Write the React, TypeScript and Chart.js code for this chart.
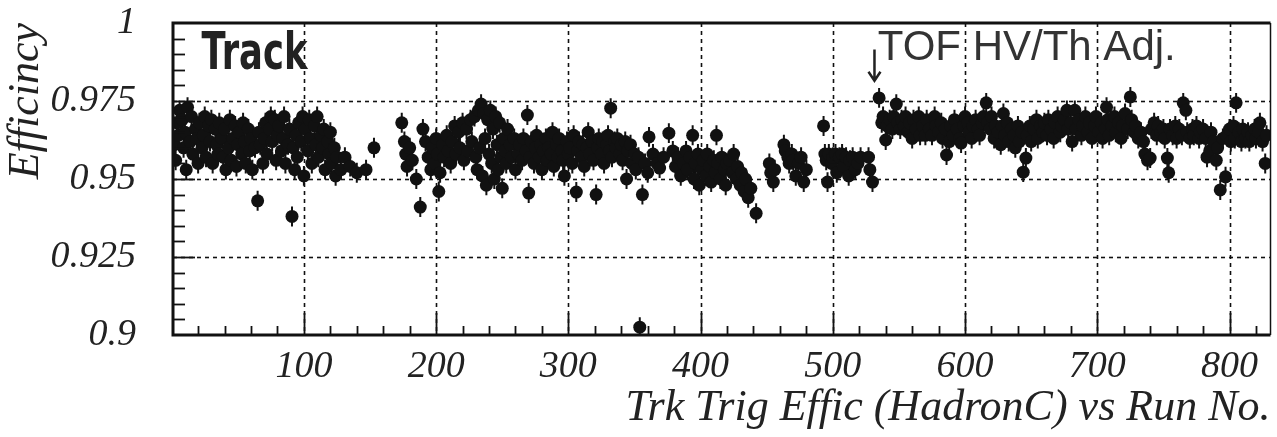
import React, { useEffect, useRef } from 'react';
import { Chart, registerables } from 'chart.js';

Chart.register(...registerables);

// ---- data: [run number, efficiency] ----
const runsEarly: [number, number][] = [
  [2, 0.961], [3, 0.956], [4, 0.968], [5, 0.964], [6, 0.972], [8, 0.969], [9, 0.960], [10, 0.965],
  [11, 0.953], [12, 0.973], [14, 0.962], [15, 0.970], [16, 0.958], [18, 0.966], [19, 0.963], [20, 0.955],
  [21, 0.968], [23, 0.960], [24, 0.964], [25, 0.970], [26, 0.957], [28, 0.967], [29, 0.962], [30, 0.969],
  [31, 0.955], [33, 0.966], [34, 0.961], [35, 0.958], [36, 0.968], [38, 0.963], [39, 0.957], [40, 0.966],
  [41, 0.953], [43, 0.960], [44, 0.969], [45, 0.956], [46, 0.963], [48, 0.967], [49, 0.954], [50, 0.961],
  [51, 0.965], [53, 0.958], [54, 0.968], [55, 0.962], [56, 0.955], [58, 0.966], [59, 0.959], [60, 0.963],
  [61, 0.953], [63, 0.960], [65, 0.943], [66, 0.965], [67, 0.961], [69, 0.955], [70, 0.963], [71, 0.968],
  [72, 0.958], [74, 0.966], [75, 0.970], [76, 0.962], [78, 0.969], [79, 0.956], [80, 0.964], [81, 0.967],
  [83, 0.959], [84, 0.963], [85, 0.970], [86, 0.955], [88, 0.961], [89, 0.966], [91, 0.938], [92, 0.960],
  [93, 0.953], [94, 0.964], [95, 0.957], [96, 0.968], [98, 0.962], [99, 0.970], [100, 0.951], [101, 0.966],
  [103, 0.959], [104, 0.969], [105, 0.963], [106, 0.955], [108, 0.967], [109, 0.961], [110, 0.970],
  [111, 0.957], [113, 0.964], [114, 0.960], [115, 0.966], [116, 0.953], [118, 0.962], [119, 0.958],
  [120, 0.965], [121, 0.955], [123, 0.960], [124, 0.951], [125, 0.957], [128, 0.953], [131, 0.957],
  [135, 0.954], [140, 0.952], [147, 0.953], [153, 0.960],
];

const runsSecond: [number, number][] = [
  [174, 0.968], [176, 0.962], [177, 0.958], [178, 0.954], [180, 0.960], [182, 0.956], [185, 0.950],
  [188, 0.941], [190, 0.966], [192, 0.962], [194, 0.957], [196, 0.953], [197, 0.960], [199, 0.955],
  [200, 0.963], [201, 0.958], [202, 0.946], [203, 0.952], [205, 0.961], [206, 0.957], [208, 0.964],
  [209, 0.959], [211, 0.955], [212, 0.962], [214, 0.967], [215, 0.958], [217, 0.965], [218, 0.960],
  [220, 0.968], [221, 0.956], [223, 0.966], [224, 0.959], [226, 0.969], [227, 0.962], [229, 0.970],
  [230, 0.957], [231, 0.953], [232, 0.972], [233, 0.960], [234, 0.974], [235, 0.951], [236, 0.971],
  [237, 0.963], [238, 0.948], [239, 0.969], [240, 0.958], [241, 0.972], [242, 0.955], [243, 0.966],
  [244, 0.950], [245, 0.970], [246, 0.961], [247, 0.953], [248, 0.968], [249, 0.957], [250, 0.947],
  [251, 0.963], [252, 0.959], [253, 0.955], [254, 0.966], [256, 0.961], [257, 0.957], [259, 0.963],
  [260, 0.953],
];

const runsMiddle: [number, number][] = [
  [262, 0.958], [263, 0.961], [265, 0.956], [266, 0.963], [268, 0.959], [269, 0.9705], [270, 0.9455],
  [271, 0.957], [272, 0.962], [274, 0.955], [275, 0.960], [276, 0.964], [278, 0.957], [279, 0.961],
  [280, 0.953], [281, 0.959], [283, 0.963], [284, 0.956], [285, 0.960], [287, 0.958], [288, 0.965],
  [289, 0.954], [291, 0.961], [292, 0.957], [293, 0.963], [295, 0.959], [296, 0.956], [297, 0.951],
  [299, 0.962], [300, 0.958], [301, 0.960], [303, 0.955], [304, 0.964], [306, 0.9458], [307, 0.959],
  [308, 0.962], [310, 0.957], [311, 0.961], [312, 0.954], [314, 0.960], [315, 0.965], [316, 0.958],
  [318, 0.962], [319, 0.956], [321, 0.945], [322, 0.960], [323, 0.963], [325, 0.958], [326, 0.962],
  [327, 0.955], [329, 0.961], [330, 0.964], [331, 0.959], [332, 0.9727], [333, 0.957], [335, 0.962],
  [336, 0.960], [337, 0.963], [339, 0.958], [340, 0.961], [341, 0.956], [343, 0.962], [344, 0.950],
  [345, 0.959], [347, 0.961], [348, 0.955], [350, 0.958], [351, 0.953], [353, 0.957], [354, 0.9025],
  [356, 0.945], [358, 0.955], [360, 0.952], [361, 0.9635], [364, 0.958], [367, 0.955], [369, 0.9535],
  [372, 0.957], [376, 0.9647], [379, 0.959], [381, 0.954], [383, 0.957], [385, 0.951], [387, 0.955],
  [389, 0.959], [390, 0.953], [392, 0.957], [394, 0.964], [395, 0.950], [396, 0.955], [398, 0.958],
  [399, 0.948], [401, 0.953], [402, 0.956], [404, 0.951], [405, 0.958], [407, 0.954], [408, 0.949],
  [410, 0.956], [411, 0.952], [412, 0.964], [413, 0.955], [415, 0.950], [416, 0.957], [418, 0.953],
  [419, 0.948], [420, 0.955],
];

const runsBeforeAdj: [number, number][] = [
  [422, 0.956], [424, 0.952], [425, 0.958], [427, 0.950], [428, 0.954], [430, 0.948], [431, 0.952],
  [433, 0.946], [434, 0.950], [436, 0.944], [438, 0.947], [442, 0.939], [452, 0.955], [453, 0.952],
  [455, 0.949], [456, 0.953], [463, 0.961], [464, 0.959], [466, 0.957], [467, 0.955], [469, 0.958],
  [470, 0.956], [472, 0.951], [474, 0.955], [476, 0.957], [478, 0.949], [480, 0.953], [493, 0.967],
  [494, 0.958], [495, 0.956], [496, 0.949], [497, 0.958], [499, 0.955], [500, 0.957], [502, 0.958],
  [503, 0.952], [505, 0.957], [507, 0.958], [508, 0.954], [510, 0.957], [512, 0.951], [513, 0.956],
  [515, 0.957], [517, 0.953], [519, 0.955], [521, 0.957], [527, 0.957], [528, 0.953], [530, 0.949],
];

const runsAfterAdj: [number, number][] = [
  [535, 0.976], [537, 0.968], [538, 0.970], [540, 0.9625], [541, 0.967], [543, 0.969], [545, 0.966],
  [546, 0.970], [548, 0.974], [549, 0.968], [551, 0.966], [552, 0.969], [554, 0.967], [555, 0.970],
  [557, 0.965], [558, 0.968], [560, 0.963], [561, 0.969], [563, 0.966], [565, 0.970], [566, 0.964],
  [568, 0.967], [570, 0.964], [571, 0.969], [573, 0.966], [575, 0.964], [577, 0.970], [578, 0.967],
  [580, 0.965], [582, 0.968], [583, 0.963], [585, 0.966], [586, 0.9577], [588, 0.962], [589, 0.967],
  [591, 0.964], [592, 0.969], [594, 0.966], [596, 0.963], [597, 0.9615], [599, 0.967], [600, 0.970],
  [602, 0.968], [603, 0.965], [605, 0.963], [606, 0.967], [608, 0.969], [610, 0.966], [611, 0.964],
  [613, 0.968], [614, 0.970], [616, 0.9744], [617, 0.968], [619, 0.966], [620, 0.970], [622, 0.963],
  [623, 0.967], [625, 0.965], [627, 0.961], [628, 0.967], [629, 0.971], [630, 0.964], [632, 0.968],
  [633, 0.962], [635, 0.966], [637, 0.964], [638, 0.960], [640, 0.967], [641, 0.962], [643, 0.965],
  [644, 0.9522], [646, 0.9567], [647, 0.964], [649, 0.967], [650, 0.962], [652, 0.966], [654, 0.969],
  [655, 0.963], [657, 0.967], [659, 0.965], [660, 0.968], [662, 0.964], [663, 0.969], [665, 0.966],
  [667, 0.963], [668, 0.968], [670, 0.970], [672, 0.965], [673, 0.967], [675, 0.969], [677, 0.972],
  [678, 0.966], [680, 0.968], [681, 0.962], [683, 0.972], [684, 0.966], [686, 0.969], [688, 0.964],
  [689, 0.967], [691, 0.970], [693, 0.965], [694, 0.968], [696, 0.963], [698, 0.967], [699, 0.970],
  [701, 0.965], [703, 0.968], [704, 0.963], [706, 0.966], [707, 0.973], [708, 0.969], [709, 0.964],
  [711, 0.967], [713, 0.970], [714, 0.965], [716, 0.968], [718, 0.963], [719, 0.967], [721, 0.971],
  [723, 0.966], [725, 0.9763], [726, 0.969], [728, 0.965], [729, 0.967], [731, 0.963], [733, 0.965],
  [735, 0.962], [736, 0.958], [738, 0.956], [740, 0.9567], [741, 0.966], [743, 0.968], [745, 0.964],
  [746, 0.967], [748, 0.965], [750, 0.966], [751, 0.963], [753, 0.9567], [754, 0.952], [755, 0.966],
  [757, 0.964], [759, 0.967], [760, 0.963], [762, 0.966], [764, 0.964], [765, 0.9744], [767, 0.972],
  [768, 0.965], [770, 0.963], [772, 0.966], [773, 0.964], [775, 0.967], [777, 0.963], [778, 0.965],
  [780, 0.966], [782, 0.963], [783, 0.957], [785, 0.959], [786, 0.965], [788, 0.962], [790, 0.956],
  [791, 0.960], [793, 0.9465], [795, 0.963], [797, 0.9507], [798, 0.964], [800, 0.966], [801, 0.962],
  [803, 0.967], [804, 0.963], [805, 0.9744], [807, 0.965], [809, 0.962], [810, 0.966], [812, 0.963],
  [814, 0.965], [815, 0.962], [817, 0.964], [819, 0.966], [820, 0.963], [822, 0.965], [823, 0.968],
  [825, 0.962], [827, 0.955], [828, 0.964],
];

const effError = 0.0032;

const xTickValues = [100, 200, 300, 400, 500, 600, 700, 800];
const xTickLabels = ['100', '200', '300', '400', '500', '600', '700', '800'];
const yTickValues = [0.9, 0.925, 0.95, 0.975, 1];
const yTickLabels = ['0.9', '0.925', '0.95', '0.975', '1'];

const xTitle = 'Trk Trig Effic (HadronC) vs Run No.';
const yTitle = 'Efficincy';
const noteTrack = 'Track';
const noteTof = 'TOF HV/Th Adj.';

const allPoints = [...runsEarly, ...runsSecond, ...runsMiddle, ...runsBeforeAdj, ...runsAfterAdj];

const INK = '#111111';

const decorPlugin = {
  id: 'decor',
  beforeDatasetsDraw(chart: any) {
    const { ctx, chartArea: a, scales } = chart;
    const x = scales.x;
    const y = scales.y;
    ctx.save();
    // dashed grid
    ctx.strokeStyle = INK;
    ctx.lineWidth = 1.6;
    ctx.setLineDash([4, 4]);
    xTickValues.forEach((v) => {
      const px = Math.round(x.getPixelForValue(v)) + 0.5;
      ctx.beginPath();
      ctx.moveTo(px, a.top);
      ctx.lineTo(px, a.bottom);
      ctx.stroke();
    });
    yTickValues.forEach((v) => {
      if (v <= 0.9 || v >= 1) return;
      const py = Math.round(y.getPixelForValue(v)) + 0.5;
      ctx.beginPath();
      ctx.moveTo(a.left, py);
      ctx.lineTo(a.right, py);
      ctx.stroke();
    });
    ctx.setLineDash([]);
    // error bars
    ctx.beginPath();
    ctx.rect(a.left, a.top, a.right - a.left, a.bottom - a.top);
    ctx.clip();
    ctx.strokeStyle = INK;
    ctx.lineWidth = 2;
    allPoints.forEach(([r, e]) => {
      const px = x.getPixelForValue(r);
      ctx.beginPath();
      ctx.moveTo(px, y.getPixelForValue(e - effError));
      ctx.lineTo(px, y.getPixelForValue(e + effError));
      ctx.stroke();
    });
    ctx.restore();
  },
  afterDraw(chart: any) {
    const { ctx, chartArea: a, scales } = chart;
    const x = scales.x;
    const y = scales.y;
    ctx.save();
    ctx.strokeStyle = INK;
    // inward ticks, x
    ctx.lineWidth = 1.8;
    for (let v = 20; v <= 830; v += 20) {
      const px = Math.round(x.getPixelForValue(v)) + 0.5;
      const len = v % 100 === 0 ? 22 : 9;
      ctx.beginPath();
      ctx.moveTo(px, a.bottom);
      ctx.lineTo(px, a.bottom - len);
      ctx.stroke();
    }
    // inward ticks, y
    for (let i = 1; i < 20; i++) {
      const v = 0.9 + i * 0.005;
      const py = Math.round(y.getPixelForValue(v)) + 0.5;
      const len = i % 5 === 0 ? 22 : 12;
      ctx.beginPath();
      ctx.moveTo(a.left, py);
      ctx.lineTo(a.left + len, py);
      ctx.stroke();
    }
    // frame
    ctx.lineWidth = 3;
    ctx.beginPath();
    ctx.moveTo(a.right, a.top);
    ctx.lineTo(a.left, a.top);
    ctx.lineTo(a.left, a.bottom);
    ctx.lineTo(a.right, a.bottom);
    ctx.stroke();
    ctx.lineWidth = 1.5;
    ctx.beginPath();
    ctx.moveTo(a.right, a.top);
    ctx.lineTo(a.right, a.bottom);
    ctx.stroke();

    // handwritten notes
    ctx.fillStyle = '#222';
    ctx.textBaseline = 'alphabetic';
    ctx.save();
    ctx.translate(x.getPixelForValue(22.5), y.getPixelForValue(0.9853));
    ctx.scale(0.68, 1);
    ctx.font = 'bold 52px "DejaVu Sans"';
    ctx.fillText(noteTrack, 0, 0);
    ctx.restore();

    ctx.save();
    ctx.fillStyle = '#333';
    ctx.font = '42px "Liberation Sans"';
    ctx.fillText(noteTof, x.getPixelForValue(534), y.getPixelForValue(0.9880));
    ctx.restore();

    // arrow
    const ax = x.getPixelForValue(531.5);
    const ay1 = y.getPixelForValue(0.9915);
    const ay2 = y.getPixelForValue(0.9815);
    ctx.strokeStyle = '#222';
    ctx.lineWidth = 2.5;
    ctx.beginPath();
    ctx.moveTo(ax, ay1);
    ctx.lineTo(ax, ay2);
    ctx.moveTo(ax - 6, ay2 - 9);
    ctx.lineTo(ax, ay2);
    ctx.lineTo(ax + 6, ay2 - 9);
    ctx.stroke();
    ctx.restore();
  },
};

export default function App() {
  const ref = useRef<HTMLCanvasElement | null>(null);

  useEffect(() => {
    if (!ref.current) return;
    const tickFont = { family: '"Liberation Serif", "Times New Roman", serif', style: 'italic' as const, size: 38 };
    const titleFont = { family: '"Liberation Serif", "Times New Roman", serif', style: 'italic' as const, size: 44, lineHeight: 1 };
    const chart = new Chart(ref.current, {
      type: 'scatter',
      data: {
        datasets: [
          {
            data: allPoints.map(([r, e]) => ({ x: r, y: e })),
            backgroundColor: INK,
            borderWidth: 0,
            pointRadius: 6.5,
            pointHoverRadius: 6.5,
            clip: 0,
          } as any,
        ],
      },
      options: {
        responsive: false,
        animation: false,
        devicePixelRatio: 1,
        layout: { padding: { top: 23, right: 4, left: 0, bottom: 0 } },
        plugins: { legend: { display: false }, tooltip: { enabled: false } },
        scales: {
          x: {
            type: 'linear',
            min: 1,
            max: 831,
            grid: { display: false },
            border: { display: false },
            afterBuildTicks: (s: any) => {
              s.ticks = xTickValues.map((v) => ({ value: v }));
            },
            afterFit: (s: any) => {
              s.height = 102;
              s.paddingLeft = 0;
              s.paddingRight = 0;
            },
            ticks: {
              autoSkip: false,
              maxRotation: 0,
              padding: 1,
              color: '#222',
              font: tickFont,
              callback: (v: any) => xTickLabels[xTickValues.indexOf(Number(v))] ?? '',
            },
            title: {
              display: true,
              text: xTitle,
              align: 'end',
              color: '#222',
              font: titleFont,
              padding: 7,
            },
          },
          y: {
            type: 'linear',
            min: 0.9,
            max: 1,
            grid: { display: false },
            border: { display: false },
            afterBuildTicks: (s: any) => {
              s.ticks = yTickValues.map((v) => ({ value: v }));
            },
            afterFit: (s: any) => {
              s.width = 173;
              s.paddingTop = 0;
              s.paddingBottom = 0;
            },
            ticks: {
              autoSkip: false,
              padding: 29,
              color: '#222',
              font: tickFont,
              callback: (v: any) => {
                const i = yTickValues.findIndex((t) => Math.abs(t - Number(v)) < 1e-9);
                return i >= 0 ? yTickLabels[i] : '';
              },
            },
            title: {
              display: true,
              text: yTitle,
              align: 'end',
              color: '#222',
              font: titleFont,
              padding: 4,
            },
          },
        },
      },
      plugins: [decorPlugin],
    });
    return () => chart.destroy();
  }, []);

  return (
    <div style={{ position: 'fixed', left: 0, top: 0, width: 1277, height: 437, background: '#fff' }}>
      <canvas ref={ref} width={1277} height={437} style={{ display: 'block' }} />
    </div>
  );
}
